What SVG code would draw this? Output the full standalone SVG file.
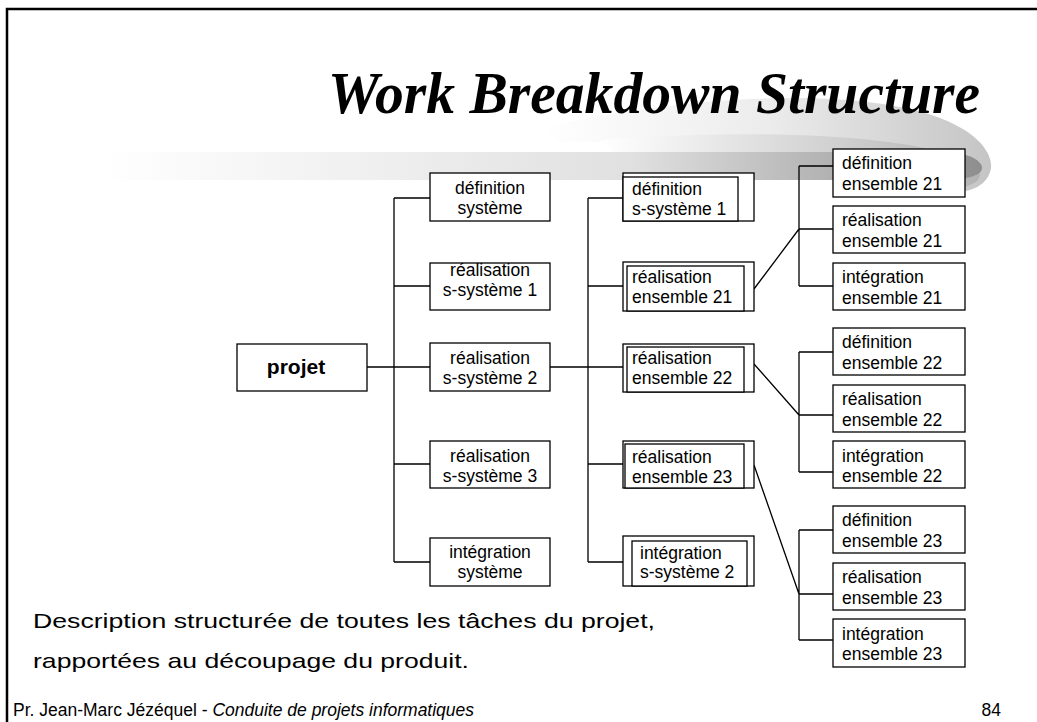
<svg xmlns="http://www.w3.org/2000/svg" width="1037" height="722" viewBox="0 0 1037 722">
<style>
.box{fill:#fff;stroke:#000;stroke-width:1.3}
.t{font-family:"Liberation Sans",Arial,sans-serif;font-size:17.5px;fill:#000}
.c{text-anchor:middle}
.ln{fill:none;stroke:#000;stroke-width:1.3}
</style>
<defs>
<linearGradient id="gBand" x1="100" y1="0" x2="990" y2="0" gradientUnits="userSpaceOnUse">
<stop offset="0" stop-color="#fff"/>
<stop offset="0.6" stop-color="#e0e0e0"/>
<stop offset="1" stop-color="#8c8c8c"/>
</linearGradient>
<linearGradient id="gArc" x1="540" y1="0" x2="995" y2="0" gradientUnits="userSpaceOnUse">
<stop offset="0" stop-color="#fff"/>
<stop offset="0.5" stop-color="#ececec"/>
<stop offset="1" stop-color="#c4c4c4"/>
</linearGradient>
<linearGradient id="gArc2" x1="600" y1="0" x2="995" y2="0" gradientUnits="userSpaceOnUse">
<stop offset="0" stop-color="#fff"/>
<stop offset="1" stop-color="#b0b0b0"/>
</linearGradient>
</defs>
<rect width="1037" height="722" fill="#fff"/>
<g id="frame">
<path d="M7,722 V9 H1037" fill="none" stroke="#000" stroke-width="2.5"/>
</g>
<g id="swoosh">
<path d="M540,128 C700,92 860,88 940,118 C985,135 995,160 990,172 C986,185 972,192 955,192 C935,162 820,140 560,142 Z" fill="url(#gArc)"/>
<path d="M600,140 C760,128 900,135 960,158 C985,168 988,182 960,188 C930,172 800,158 620,156 Z" fill="url(#gArc2)"/>
<path d="M100,152 L940,152 C972,152 982,162 982,168 C982,174 972,180 940,180 L100,180 Z" fill="url(#gBand)"/>
</g>
<g id="title">
<text x="328" y="113" textLength="652" lengthAdjust="spacingAndGlyphs" font-family="'Liberation Serif','Times New Roman',serif" font-size="60" font-weight="bold" font-style="italic">Work Breakdown Structure</text>
</g>
<g id="connectors">
<path class="ln" d="M367,367 H394 M394,198 V562 M394,198 H430 M394,286 H430 M394,367 H430 M394,464 H430 M394,562 H430"/>
<path class="ln" d="M550,367 H588 M588,198 V562 M588,198 H623 M588,286 H623 M588,367 H623 M588,464 H623 M588,562 H623"/>
<path class="ln" d="M799,166 V286 M799,166 H833 M799,229 H833 M799,286 H833 M754,289 L799,229"/>
<path class="ln" d="M799,352 V472 M799,352 H833 M799,415 H833 M799,472 H833 M754,364 L799,415"/>
<path class="ln" d="M799,530 V640 M799,530 H833 M799,594 H833 M799,640 H833 M754,465 L799,594"/>
</g>
<g id="projet">
<rect class="box" x="237" y="344" width="130" height="47"/>
<text x="296" y="374" text-anchor="middle" font-family="'Liberation Sans',Arial,sans-serif" font-size="21" font-weight="bold">projet</text>
</g>
<g id="def-systeme">
<rect class="box" x="430" y="173" width="120" height="48"/>
<text class="t c" x="490" y="194">définition</text><text class="t c" x="490" y="214">système</text>
</g>
<g id="real-ss1">
<rect class="box" x="430" y="263" width="120" height="47"/>
<text class="t c" x="490" y="276">réalisation</text><text class="t c" x="490" y="296">s-système 1</text>
</g>
<g id="real-ss2">
<rect class="box" x="430" y="343" width="120" height="48"/>
<text class="t c" x="490" y="364">réalisation</text><text class="t c" x="490" y="384">s-système 2</text>
</g>
<g id="real-ss3">
<rect class="box" x="430" y="441" width="120" height="47"/>
<text class="t c" x="490" y="462">réalisation</text><text class="t c" x="490" y="482">s-système 3</text>
</g>
<g id="int-systeme">
<rect class="box" x="430" y="538" width="120" height="48"/>
<text class="t c" x="490" y="558">intégration</text><text class="t c" x="490" y="578">système</text>
</g>
<g id="def-ss1">
<rect class="box" x="623" y="173" width="131" height="48"/>
<rect class="box" x="623" y="177" width="115" height="44"/>
<text class="t" x="632" y="195">définition</text><text class="t" x="632" y="215">s-système 1</text>
</g>
<g id="real-ens21">
<rect class="box" x="623" y="262" width="131" height="49"/>
<rect class="box" x="627" y="266" width="117" height="45"/>
<text class="t" x="632" y="283">réalisation</text><text class="t" x="632" y="303">ensemble 21</text>
</g>
<g id="real-ens22">
<rect class="box" x="623" y="344" width="131" height="48"/>
<rect class="box" x="627" y="347" width="117" height="45"/>
<text class="t" x="632" y="364">réalisation</text><text class="t" x="632" y="384">ensemble 22</text>
</g>
<g id="real-ens23">
<rect class="box" x="623" y="441" width="131" height="47"/>
<rect class="box" x="625" y="444" width="119" height="44"/>
<text class="t" x="632" y="463">réalisation</text><text class="t" x="632" y="483">ensemble 23</text>
</g>
<g id="int-ss2">
<rect class="box" x="623" y="536" width="131" height="50"/>
<rect class="box" x="632" y="541" width="115" height="45"/>
<text class="t" x="640" y="559">intégration</text><text class="t" x="640" y="578">s-système 2</text>
</g>
<g id="def-ens21"><rect class="box" x="833" y="149" width="132" height="48"/><text class="t" x="842" y="169">définition</text><text class="t" x="842" y="190">ensemble 21</text></g>
<g id="real-ens21b"><rect class="box" x="833" y="206" width="132" height="47"/><text class="t" x="842" y="226">réalisation</text><text class="t" x="842" y="247">ensemble 21</text></g>
<g id="int-ens21"><rect class="box" x="833" y="263" width="132" height="47"/><text class="t" x="842" y="283">intégration</text><text class="t" x="842" y="304">ensemble 21</text></g>
<g id="def-ens22"><rect class="box" x="833" y="328" width="132" height="47"/><text class="t" x="842" y="348">définition</text><text class="t" x="842" y="369">ensemble 22</text></g>
<g id="real-ens22b"><rect class="box" x="833" y="385" width="132" height="47"/><text class="t" x="842" y="405">réalisation</text><text class="t" x="842" y="426">ensemble 22</text></g>
<g id="int-ens22"><rect class="box" x="833" y="441" width="132" height="47"/><text class="t" x="842" y="462">intégration</text><text class="t" x="842" y="482">ensemble 22</text></g>
<g id="def-ens23"><rect class="box" x="833" y="506" width="132" height="47"/><text class="t" x="842" y="526">définition</text><text class="t" x="842" y="547">ensemble 23</text></g>
<g id="real-ens23b"><rect class="box" x="833" y="563" width="132" height="47"/><text class="t" x="842" y="583">réalisation</text><text class="t" x="842" y="604">ensemble 23</text></g>
<g id="int-ens23"><rect class="box" x="833" y="619" width="132" height="48"/><text class="t" x="842" y="640">intégration</text><text class="t" x="842" y="660">ensemble 23</text></g>
<g id="description" font-family="'Liberation Sans',Arial,sans-serif" font-size="21">
<text x="33" y="628" textLength="622" lengthAdjust="spacingAndGlyphs">Description structurée de toutes les tâches du projet,</text>
<text x="33" y="668" textLength="436" lengthAdjust="spacingAndGlyphs">rapportées au découpage du produit.</text>
</g>
<g id="footer" font-family="'Liberation Sans',Arial,sans-serif" font-size="17.5">
<text x="13" y="716">Pr. Jean-Marc Jézéquel - <tspan font-style="italic">Conduite de projets informatiques</tspan></text>
<text x="1001" y="716" text-anchor="end">84</text>
</g>
</svg>
